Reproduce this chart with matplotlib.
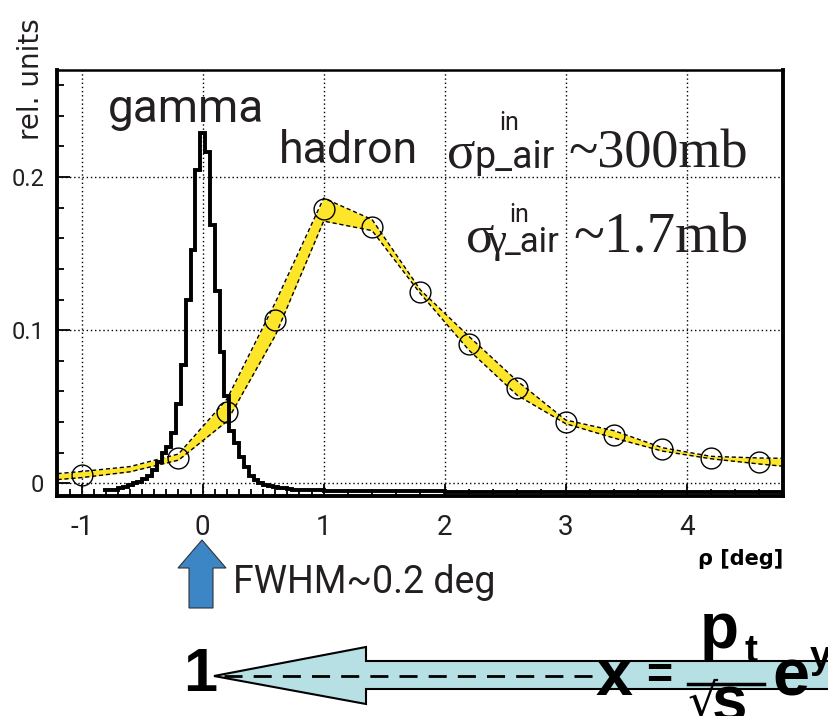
import numpy as np
import matplotlib
matplotlib.use('Agg')
import matplotlib.pyplot as plt
from matplotlib.patches import Polygon
from matplotlib.ticker import MultipleLocator, FixedLocator, FuncFormatter

plt.rcParams['axes.unicode_minus'] = False

# ---------------- data ----------------
# gamma: fine bins of 0.04 deg around the peak, then a flat tail
gamma_fine_edges = np.round(np.arange(-0.82, 0.79, 0.04), 2)
gamma_fine_vals = [-0.0045, -0.0043, -0.0040, -0.0032, -0.0022, -0.0010, 0.0000, 0.0012,
                   0.0028, 0.0048, 0.0085, 0.0140, 0.0200, 0.0235, 0.0330, 0.0520,
                   0.0773, 0.1197, 0.1524, 0.2046, 0.2285, 0.2162, 0.1687, 0.1258,
                   0.0858, 0.0571, 0.0345, 0.0265, 0.0172, 0.0108, 0.0050, 0.0020,
                   0.0002, -0.0010, -0.0015, -0.0022, -0.0030, -0.0030, -0.0038, -0.0042]
gamma_tail_edges = [0.78, 1.0, 1.4, 2.0, 3.0, 4.0, 4.82]
gamma_tail_vals = [-0.0045, -0.0050, -0.0052, -0.0055, -0.0055, -0.0055]

# hadron: measured points and the yellow uncertainty band
hadron_x = [-1.0, -0.2, 0.2, 0.6, 1.0, 1.4, 1.8, 2.2, 2.6, 3.0, 3.4, 3.8, 4.2, 4.6]
hadron_y = [0.0055, 0.0168, 0.0469, 0.1067, 0.1791, 0.1672, 0.1248, 0.0910,
            0.0621, 0.0403, 0.0316, 0.0225, 0.0168, 0.0142]
band_x = [-1.2, -1.0, -0.6, -0.2, 0.2, 0.6, 1.0, 1.4, 1.8, 2.2, 2.6, 3.0, 3.4, 3.8, 4.2, 4.6, 4.8]
band_hi = [0.0064, 0.0078, 0.0110, 0.0192, 0.0550, 0.1180, 0.1862, 0.1722, 0.1262,
           0.0960, 0.0668, 0.0414, 0.0344, 0.0233, 0.0177, 0.0166, 0.0164]
band_lo = [0.0025, 0.0038, 0.0076, 0.0152, 0.0405, 0.0965, 0.1712, 0.1650, 0.1238,
           0.0870, 0.0575, 0.0390, 0.0296, 0.0211, 0.0161, 0.0127, 0.0112]

xtick_vals = [-1, 0, 1, 2, 3, 4]
ytick_vals = [0, 0.1, 0.2]

narrow = ['Roboto', 'DejaVu Sans']
serif = ['Liberation Serif', 'DejaVu Serif']
ink = '#231f20'

fig = plt.figure(figsize=(8.29, 7.16), dpi=100)
ax = fig.add_axes([57/829, 1-496/716, (783-57)/829, (496-70)/716])

# band + points
ax.fill_between(band_x, band_lo, band_hi, color='#fde62a', lw=0, zorder=2)
ax.plot(band_x, band_hi, color='black', lw=1, dashes=(3, 2), zorder=3)
ax.plot(band_x, band_lo, color='black', lw=1, dashes=(3, 2), zorder=3)
ax.plot(hadron_x, hadron_y, 'o', mfc='none', mec='black', ms=15, mew=1, zorder=4)

# gamma histogram
ax.stairs(gamma_fine_vals, gamma_fine_edges, baseline=None, color='black', lw=2.8, zorder=5)
ax.stairs(gamma_tail_vals, gamma_tail_edges, baseline=None, color='black', lw=2.8, zorder=5)

ax.set_xlim(-1.204, 4.796)
ax.set_ylim(-0.0082, 0.2698)

ax.xaxis.set_major_locator(FixedLocator(xtick_vals))
ax.xaxis.set_minor_locator(FixedLocator(list(np.arange(-1.1, 1.0, 0.1)) + list(np.arange(1.2, 4.8, 0.2))))
ax.yaxis.set_major_locator(FixedLocator(ytick_vals))
ax.yaxis.set_minor_locator(MultipleLocator(0.02))
ax.yaxis.set_major_formatter(FuncFormatter(lambda v, _: '0' if abs(v) < 1e-9 else '%g' % v))

ax.tick_params(which='both', direction='in', top=False, right=False, colors='black', width=1.3)
ax.tick_params(which='major', length=9)
ax.tick_params(which='minor', length=5)
ax.tick_params(axis='x', which='major', pad=13, labelsize=20, labelcolor=ink)
ax.tick_params(axis='y', which='major', pad=9, labelsize=17, labelcolor=ink)
for lab in ax.get_xticklabels() + ax.get_yticklabels():
    lab.set_family(narrow)

ax.grid(True, which='major', color='black', linestyle=(0, (1, 2)), lw=1)
ax.set_axisbelow(True)
for side in ['left', 'bottom', 'right']:
    ax.spines[side].set_linewidth(2.8)
ax.spines['top'].set_linewidth(1.8)

# ---------------- overlay in pixel coords ----------------
ov = fig.add_axes([0, 0, 1, 1], zorder=10)
ov.set_xlim(0, 829)
ov.set_ylim(716, 0)
ov.axis('off')
ov.patch.set_alpha(0)

ov.text(31, 79, 'rel. units', rotation=90, ha='center', va='center', fontsize=20,
        family=['DejaVu Sans'], color=ink)
ov.text(108, 122, 'gamma', fontsize=33, family=narrow, color=ink, va='baseline')
ov.text(279, 163, 'hadron', fontsize=32, family=narrow, color=ink, va='baseline')

# sigma lines
ov.text(447, 168, 'σ', fontsize=38, family=serif, color=ink, va='baseline')
ov.text(474, 168, 'p_air', fontsize=27, family=narrow, color=ink, va='baseline')
ov.text(499, 130, 'in', fontsize=18, family=narrow, color=ink, va='baseline')
ov.text(748, 168, '~300mb', fontsize=39, family=serif, color=ink, va='baseline', ha='right')

ov.text(466, 252, 'σ', fontsize=38, family=serif, color=ink, va='baseline')
ov.text(487, 252, 'γ', fontsize=31, family=serif, color=ink, va='baseline')
ov.text(505, 252, '_air', fontsize=25, family=narrow, color=ink, va='baseline')
ov.text(509, 222, 'in', fontsize=18, family=narrow, color=ink, va='baseline')
ov.text(748, 252, '~1.7mb', fontsize=41, family=serif, color=ink, va='baseline', ha='right')

ov.text(783, 565, 'ρ [deg]', fontsize=15, weight='bold', family=['DejaVu Sans'],
        color='black', va='baseline', ha='right')

# blue arrow + FWHM
blue = Polygon([(202, 540), (226, 568), (213, 568), (213, 608), (189, 608), (189, 568), (178, 568)],
               closed=True, facecolor='#3c86c6', edgecolor='#333333', lw=0.8)
ov.add_patch(blue)
ov.text(233, 593, 'FWHM~0.2 deg', fontsize=27, family=narrow, color=ink, va='baseline')

# bottom arrow with x = pt/sqrt(s) e^y
big = Polygon([(214, 676), (366, 647), (366, 661), (840, 661), (840, 689), (366, 689), (366, 704)],
              closed=True, facecolor='#b7e0e4', edgecolor='black', lw=1.5)
ov.add_patch(big)
ov.plot([224, 594], [676, 676], color='black', lw=2, dashes=(6.5, 4))
ov.text(200, 691, '1', fontsize=44, weight='bold', family=['Liberation Sans'], ha='center', va='baseline')
ov.text(614, 695, 'x', fontsize=48, weight='bold', family=['Liberation Sans'], ha='center', va='baseline')
ov.text(659, 688, '=', fontsize=32, weight='bold', family=['Liberation Sans'], ha='center', va='baseline')
ov.plot([688, 764], [684, 684], color='black', lw=2.5)
ov.text(700, 648, 'p', fontsize=46, weight='bold', family=['Liberation Sans'], va='baseline')
ov.text(745, 662, 't', fontsize=28, weight='bold', family=['Liberation Sans'], va='baseline')
ov.text(688, 717, '√', fontsize=34, family=['DejaVu Sans'], va='baseline')
ov.text(712, 722, 's', fontsize=46, weight='bold', family=['Liberation Sans'], va='baseline')
ov.text(772, 696, 'e', fontsize=48, weight='bold', family=['Liberation Sans'], va='baseline')
ov.text(810, 668, 'y', fontsize=28, weight='bold', family=['Liberation Sans'], va='baseline')

fig.savefig('out.png', dpi=100)
